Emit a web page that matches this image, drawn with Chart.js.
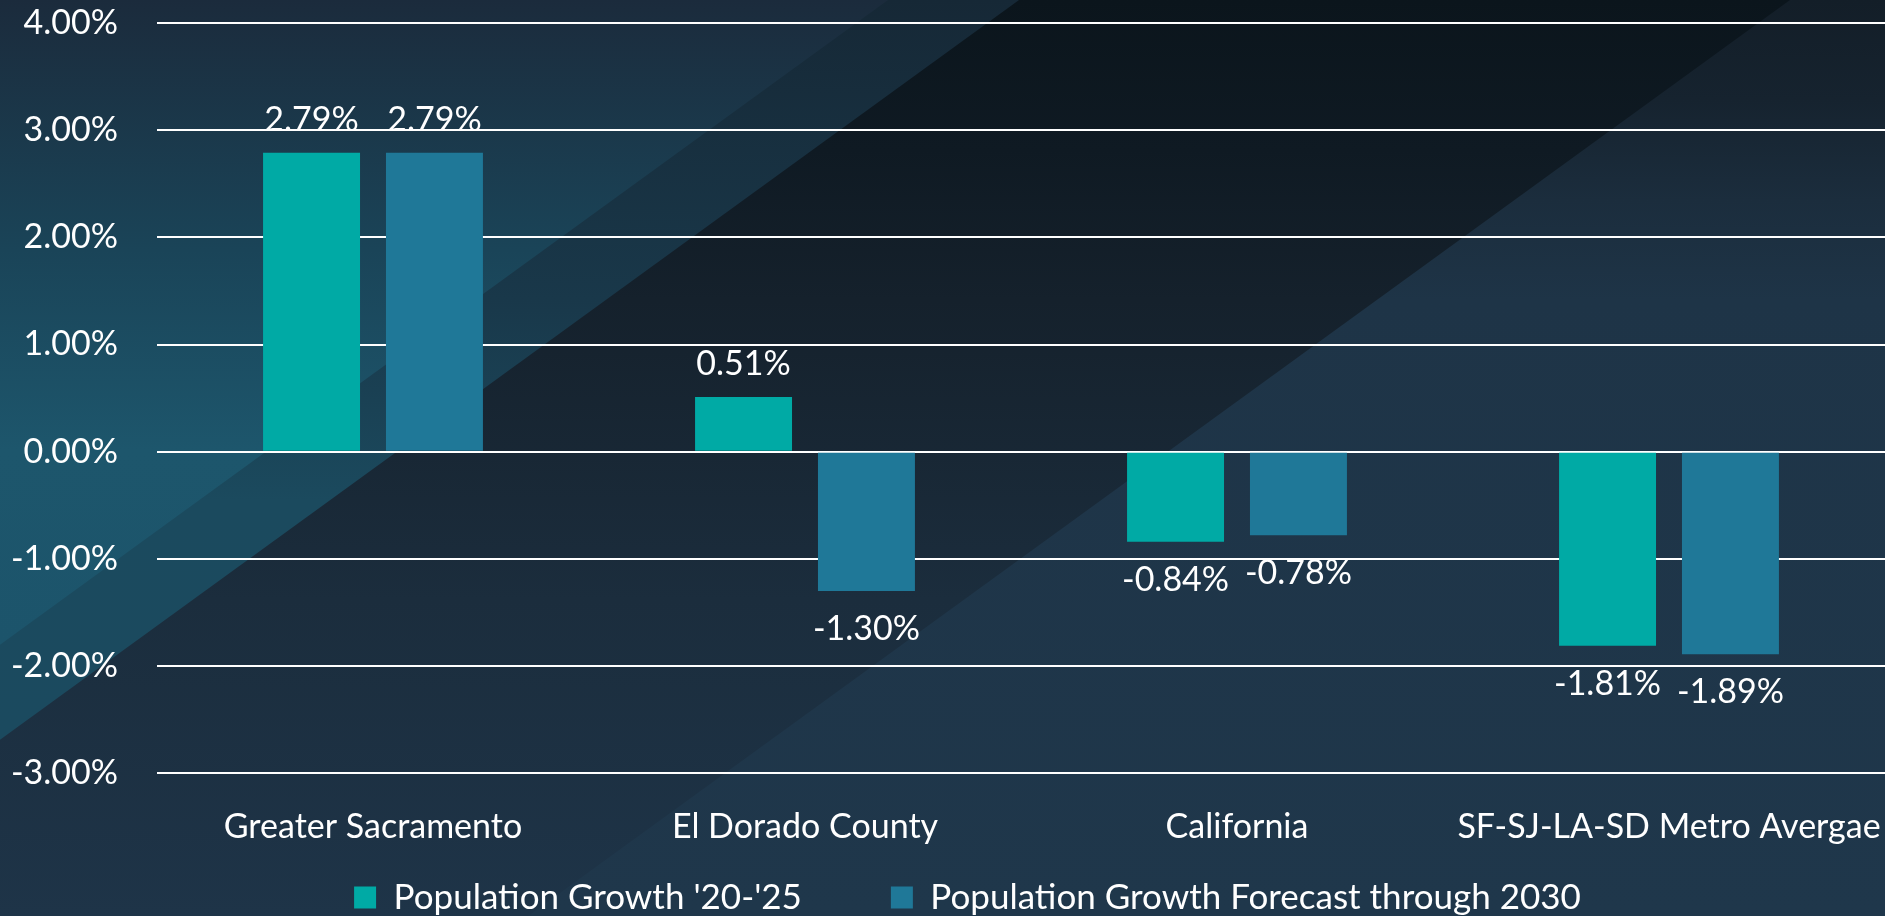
<!DOCTYPE html>
<html>
<head>
<meta charset="utf-8">
<script src="https://cdn.jsdelivr.net/npm/chart.js@4.4.1/dist/chart.umd.min.js"></script>
<style>
  html, body { margin: 0; padding: 0; background: #1e3448; }
  #wrap { width: 1885px; height: 916px; position: relative; }
</style>
</head>
<body>
<div id="wrap"><canvas id="c"></canvas></div>
<script>
// ---- data ----
const categories = ['Greater Sacramento', 'El Dorado County', 'California', 'SF-SJ-LA-SD Metro Avergae'];
const growth2025 = [2.79, 0.51, -0.84, -1.81];
const forecast2030 = [2.79, -1.30, -0.78, -1.89];
const seriesNames = ["Population Growth '20-'25", 'Population Growth Forecast through 2030'];
const yMin = -3, yMax = 4, yStep = 1;
const fmtPct = v => Number(v).toFixed(2) + '%';

const FONT = 'Lato';
Chart.defaults.font.family = FONT;
Chart.defaults.color = '#ffffff';

// background with diagonal bands
const bgPlugin = {
  id: 'bgBands',
  beforeDraw(chart) {
    const ctx = chart.ctx, W = chart.width, H = chart.height;
    const s = 0.726;
    const grad = (stops) => {
      const g = ctx.createLinearGradient(0, 0, 0, H);
      stops.forEach(([y, c]) => g.addColorStop(Math.min(1, y / H), c));
      return g;
    };
    const poly = (pts, fill) => {
      ctx.beginPath();
      pts.forEach(([x, y], i) => i ? ctx.lineTo(x, y) : ctx.moveTo(x, y));
      ctx.closePath();
      ctx.fillStyle = fill;
      ctx.fill();
    };
    ctx.save();
    ctx.fillStyle = grad([[0, '#0b151c'], [150, '#0f1a23'], [300, '#15212c'], [600, '#1b2d3d'], [916, '#1e3448']]);
    ctx.fillRect(0, 0, W, H);
    const x3 = 1790;
    poly([[x3, 0], [W, 0], [W, H], [x3 - H / s, H]],
      grad([[0, '#131e28'], [100, '#16232f'], [200, '#1b2d3d'], [300, '#1e3447'], [916, '#1f374b']]));
    const x2 = 1019;
    poly([[0, 0], [x2, 0], [0, x2 * s]],
      grad([[0, '#162836'], [300, '#19384a'], [500, '#1b4a5e'], [740, '#1b4a5f']]));
    const x1 = 888;
    poly([[0, 0], [x1, 0], [0, x1 * s]],
      grad([[0, '#1b2b3c'], [250, '#1a4458'], [450, '#1d566c'], [645, '#1c546b']]));
    ctx.restore();
  }
};

// value labels above/below bars
const valueLabels = {
  id: 'valueLabels',
  afterDatasetsDraw(chart) {
    const ctx = chart.ctx;
    ctx.save();
    ctx.font = '34px ' + FONT;
    ctx.fillStyle = '#ffffff';
    ctx.textAlign = 'center';
    ctx.textBaseline = 'alphabetic';
    chart.data.datasets.forEach((ds, di) => {
      chart.getDatasetMeta(di).data.forEach((bar, i) => {
        const v = ds.data[i];
        const y = v >= 0 ? bar.y - 22 : bar.y + 49;
        ctx.fillText(fmtPct(v), bar.x, y);
      });
    });
    ctx.restore();
  }
};

// legend placement tweak (wide item spacing without a tall legend box)
const legendPlace = {
  id: 'legendPlace',
  afterLayout(chart) {
    const lg = chart.legend;
    if (!lg) return;
    lg.top = 791;
    lg.bottom = chart.height;
    lg.height = lg.bottom - lg.top;
    lg.left = lg.left + 50;
  }
};

new Chart(document.getElementById('c'), {
  type: 'bar',
  data: {
    labels: categories,
    datasets: [
      { label: seriesNames[0], data: growth2025, backgroundColor: '#00aaa5', borderWidth: 0,
        categoryPercentage: 0.569, barPercentage: 0.789 },
      { label: seriesNames[1], data: forecast2030, backgroundColor: '#1f7898', borderWidth: 0,
        categoryPercentage: 0.569, barPercentage: 0.789 }
    ]
  },
  options: {
    responsive: true,
    maintainAspectRatio: false,
    animation: false,
    layout: { padding: { top: 23, left: 0, right: 0, bottom: 0 } },
    scales: {
      y: {
        min: yMin, max: yMax,
        ticks: { stepSize: yStep, callback: v => fmtPct(v), color: '#ffffff', font: { size: 34 }, padding: 0 },
        grid: { color: '#ffffff', lineWidth: 2, drawTicks: true, tickLength: 39, tickColor: 'rgba(0,0,0,0)' },
        border: { display: false },
        afterFit(scale) { scale.width = 157; }
      },
      x: {
        ticks: { color: '#ffffff', font: { size: 34 }, padding: 0, maxRotation: 0, autoSkip: false },
        grid: { display: true, drawOnChartArea: false, drawTicks: true, tickLength: 33, tickColor: 'rgba(0,0,0,0)' },
        border: { display: false }
      }
    },
    plugins: {
      legend: {
        position: 'bottom',
        maxHeight: 69,
        labels: { boxWidth: 22, boxHeight: 22, padding: 89, color: '#ffffff', font: { size: 35 } }
      },
      tooltip: { enabled: false },
      title: { display: false }
    }
  },
  plugins: [bgPlugin, valueLabels, legendPlace]
});
</script>
</body>
</html>
